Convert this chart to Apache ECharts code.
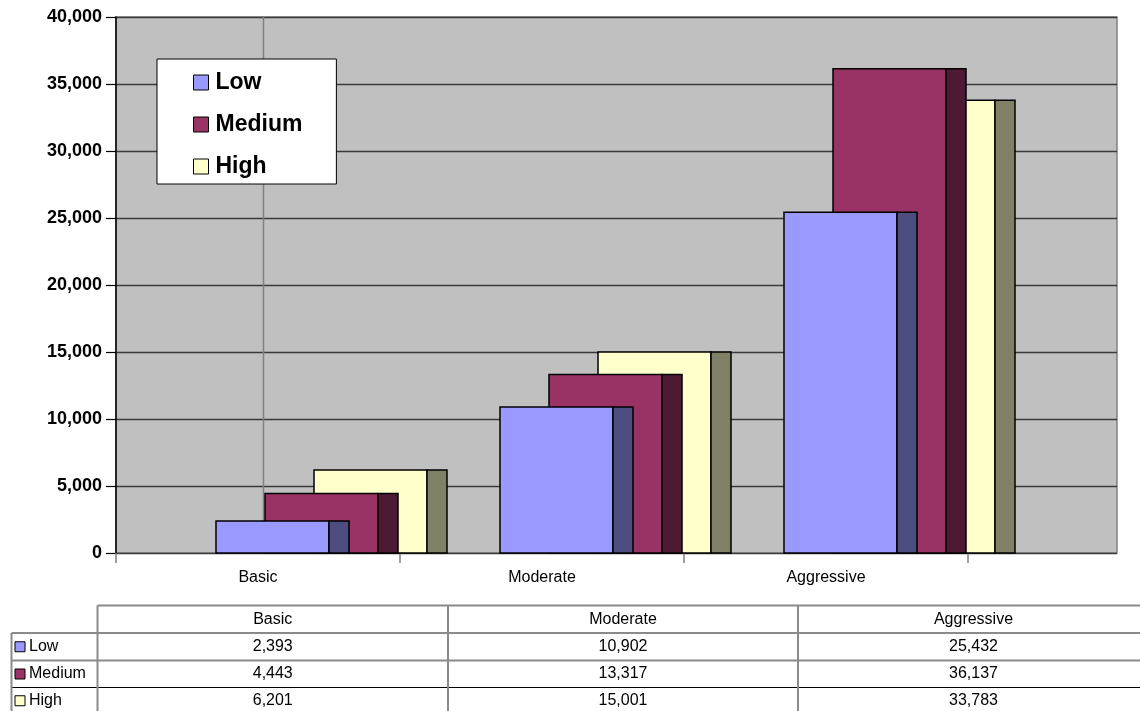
<!DOCTYPE html>
<html>
<head>
<meta charset="utf-8">
<script src="https://cdn.jsdelivr.net/npm/echarts@6/dist/echarts.min.js"></script>
<style>
  html, body { margin: 0; padding: 0; background: #ffffff; }
  #chart { width: 1140px; height: 711px; }
</style>
</head>
<body>
<div id="chart"></div>
<script>
// Scenario totals per category
const categories = ['Basic', 'Moderate', 'Aggressive'];
const seriesNames = ['Low', 'Medium', 'High'];
const lowValues = [2393, 10902, 25432];
const mediumValues = [4443, 13317, 36137];
const highValues = [6201, 15001, 33783];
const yMin = 0;
const yMax = 40000;
const yStep = 5000;

const valueSets = [lowValues, mediumValues, highValues];
const frontColors = ['#9999FF', '#993366', '#FFFFCC'];
const sideColors = ['#4D4D80', '#4C1A33', '#808066'];

const FONT = '"Liberation Sans", Arial, sans-serif';
const fmt = v => v.toString().replace(/\B(?=(\d{3})+(?!\d))/g, ',');

// Column geometry inside one category band (fractions of band width)
const FRONT_START = 100 / 284;
const FRONT_W = 113 / 284;
const SIDE_W = 20 / 284;
const SERIES_STEP = 49 / 284;

function makeRender(s) {
  return function (params, api) {
    const cat = api.value(0);
    const val = api.value(1);
    const band = api.size([1, 0])[0];
    const base = api.coord([cat, 0]);
    const top = api.coord([cat, val]);
    const start = base[0] - band / 2;
    const x0 = start + band * (FRONT_START + s * SERIES_STEP);
    const fw = band * FRONT_W;
    const sw = band * SIDE_W;
    const h = base[1] - top[1];
    const stroke = { stroke: '#000000', lineWidth: 1.5 };
    return {
      type: 'group',
      children: [
        { type: 'rect', shape: { x: x0, y: top[1], width: fw, height: h },
          style: Object.assign({ fill: frontColors[s] }, stroke) },
        { type: 'rect', shape: { x: x0 + fw, y: top[1], width: sw, height: h },
          style: Object.assign({ fill: sideColors[s] }, stroke) }
      ]
    };
  };
}

const series = seriesNames.map((name, s) => ({
  name: name,
  type: 'custom',
  xAxisIndex: 1,
  yAxisIndex: 1,
  z: 4 - s,
  itemStyle: { color: frontColors[s] },
  encode: { x: 0, y: 1 },
  data: valueSets[s].map((v, i) => [i, v]),
  renderItem: makeRender(s)
}));

// Data table below the plot
const tableCols = [97.5, 448, 798, 1149];
const tableRows = [605.5, 633, 660.5, 687.5, 714];
const tableLeft = 11.5;
const lineGray = '#8A8A8A';
const tableGraphics = [];

function hLine(x1, x2, y, color, w) {
  tableGraphics.push({ type: 'line', shape: { x1: x1, y1: y, x2: x2, y2: y },
    style: { stroke: color, lineWidth: w }, z: 10 });
}
function vLine(x, y1, y2, color, w) {
  tableGraphics.push({ type: 'line', shape: { x1: x, y1: y1, x2: x, y2: y2 },
    style: { stroke: color, lineWidth: w }, z: 10 });
}
function cellText(x, y, text, align) {
  tableGraphics.push({ type: 'text', z: 11,
    style: { text: text, x: x, y: y, align: align || 'center', verticalAlign: 'middle',
      font: '16px ' + FONT, fill: '#000000' } });
}

hLine(tableCols[0], 1140, tableRows[0], lineGray, 2);
hLine(tableLeft, 1140, tableRows[1], lineGray, 2);
hLine(tableLeft, 1140, tableRows[2], lineGray, 2);
hLine(tableLeft, 1140, tableRows[3], '#000000', 1.2);
vLine(tableLeft, tableRows[1], 711, lineGray, 2);
for (let c = 0; c < 3; c++) vLine(tableCols[c], tableRows[0], 711, lineGray, 2);

categories.forEach((cat, i) => {
  const cx = (tableCols[i] + tableCols[i + 1]) / 2;
  cellText(cx, (tableRows[0] + tableRows[1]) / 2, cat);
});
seriesNames.forEach((name, s) => {
  const cy = (tableRows[s + 1] + tableRows[s + 2]) / 2;
  tableGraphics.push({ type: 'rect', z: 11,
    shape: { x: 15, y: cy - 5, width: 10, height: 10 },
    style: { fill: frontColors[s], stroke: '#000000', lineWidth: 1 } });
  cellText(29, cy, name, 'left');
  valueSets[s].forEach((v, i) => {
    const cx = (tableCols[i] + tableCols[i + 1]) / 2;
    cellText(cx, cy, fmt(v));
  });
});

// Vertical guide line on the back wall
tableGraphics.push({ type: 'line', z: 1,
  shape: { x1: 263.5, y1: 17, x2: 263.5, y2: 553 },
  style: { stroke: '#808080', lineWidth: 1.5 } });

const chart = echarts.init(document.getElementById('chart'), null, { renderer: 'canvas' });
chart.setOption({
  backgroundColor: '#ffffff',
  animation: false,
  textStyle: { fontFamily: FONT },
  grid: [
    { left: 116, top: 17, width: 1001, height: 536, show: true,
      backgroundColor: '#C0C0C0', borderColor: '#808080', borderWidth: 1.5 },
    { left: 116, top: 17, width: 852, height: 536 }
  ],
  xAxis: [
    { gridIndex: 0, type: 'value', show: false, min: 0, max: 1 },
    { gridIndex: 1, type: 'category', data: categories,
      axisLine: { show: false },
      axisTick: { show: true, length: 10, lineStyle: { color: '#808080', width: 1.5 } },
      axisLabel: { fontSize: 16, color: '#000000', margin: 17, fontFamily: FONT },
      splitLine: { show: false } }
  ],
  yAxis: [
    { gridIndex: 0, type: 'value', min: yMin, max: yMax, interval: yStep,
      axisLine: { show: true, lineStyle: { color: '#000000', width: 1.5 } },
      axisTick: { show: true, length: 10, lineStyle: { color: '#000000', width: 1.2 } },
      axisLabel: { fontSize: 18, fontWeight: 'bold', color: '#000000', margin: 14,
        fontFamily: FONT, formatter: v => fmt(v) },
      splitLine: { show: true, lineStyle: { color: '#3a3a3a', width: 1.4 } } },
    { gridIndex: 1, type: 'value', min: yMin, max: yMax, interval: yStep, show: false,
      splitLine: { show: false } }
  ],
  legend: {
    data: seriesNames,
    orient: 'vertical',
    left: 157,
    top: 59,
    padding: [12, 34, 6, 36],
    itemGap: 19,
    itemWidth: 15,
    itemHeight: 15,
    icon: 'rect',
    backgroundColor: '#ffffff',
    borderColor: '#000000',
    borderWidth: 1,
    itemStyle: { borderColor: '#000000', borderWidth: 1 },
    textStyle: { fontSize: 23, fontWeight: 'bold', color: '#000000', fontFamily: FONT,
      lineHeight: 22, padding: [0, 0, 0, 2] },
    selectedMode: false
  },
  graphic: tableGraphics,
  series: series
});
</script>
</body>
</html>
